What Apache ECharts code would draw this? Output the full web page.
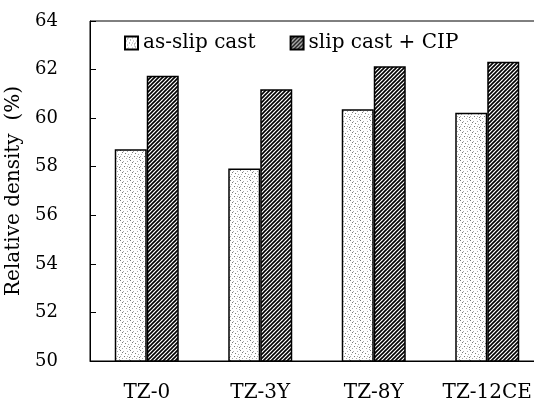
<!DOCTYPE html>
<html>
<head>
<meta charset="utf-8">
<script src="https://cdn.jsdelivr.net/npm/echarts@6/dist/echarts.min.js"></script>
<style>
html, body { margin: 0; padding: 0; background: #fff; }
#main { width: 534px; height: 406px; }
</style>
</head>
<body>
<div id="main"></div>
<script>
var categories = ['TZ-0', 'TZ-3Y', 'TZ-8Y', 'TZ-12CE'];
var slipCast = [58.72, 57.93, 60.37, 60.22];
var slipCastCIP = [61.75, 61.19, 62.14, 62.32];
var seriesNames = ['as-slip cast', 'slip cast + CIP'];

// 点状纹理
function dotPattern() {
    var c = document.createElement('canvas');
    c.width = 10; c.height = 10;
    var ctx = c.getContext('2d');
    ctx.fillStyle = '#fff';
    ctx.fillRect(0, 0, 10, 10);
    var dots = [[0, 0], [3, 1], [7, 1], [5, 3], [1, 4], [8, 4], [4, 6], [6, 8], [2, 8], [9, 7], [0, 6], [7, 6], [2, 2], [9, 9]];
    for (var i = 0; i < dots.length; i++) {
        ctx.fillStyle = i % 3 == 0 ? '#777' : '#aaa';
        ctx.fillRect(dots[i][0], dots[i][1], 1, 1);
    }
    return c;
}

// 斜线纹理
function hatchPattern() {
    var c = document.createElement('canvas');
    c.width = 4; c.height = 4;
    var ctx = c.getContext('2d');
    ctx.fillStyle = '#fff';
    ctx.fillRect(0, 0, 4, 4);
    ctx.strokeStyle = '#000';
    ctx.lineWidth = 1.6;
    ctx.beginPath();
    ctx.moveTo(-1, 5); ctx.lineTo(5, -1);
    ctx.moveTo(-3, 3); ctx.lineTo(3, -3);
    ctx.moveTo(1, 7); ctx.lineTo(7, 1);
    ctx.stroke();
    return c;
}

var font = 'DejaVu Serif';
var myChart = echarts.init(document.getElementById('main'));

var option = {
    animation: false,
    grid: {
        left: 90, top: 21, width: 454, bottom: 45,
        outerBoundsMode: 'none',
        containLabel: false,
        show: true, borderColor: '#000', borderWidth: 1
    },
    legend: {
        left: 119, top: 28,
        icon: 'rect',
        itemWidth: 13, itemHeight: 13, itemGap: 34, itemTextGap: 4,
        textStyle: { fontFamily: font, fontSize: 20, color: '#000' },
        data: seriesNames
    },
    xAxis: {
        type: 'category',
        data: categories,
        axisLine: { lineStyle: { color: '#000', width: 1 } },
        axisTick: { inside: true, length: 6, lineStyle: { color: '#000' } },
        axisLabel: { interval: 0, fontFamily: font, fontSize: 20, color: '#000', margin: 22 }
    },
    yAxis: {
        type: 'value',
        min: 50, max: 64, interval: 2,
        name: 'Relative density  (%)',
        nameLocation: 'middle',
        nameGap: 58,
        nameTextStyle: { fontFamily: font, fontSize: 20, color: '#000' },
        axisLine: { show: true, lineStyle: { color: '#000', width: 1 } },
        axisTick: { show: true, inside: true, length: 6, lineStyle: { color: '#000' } },
        axisLabel: { fontFamily: font, fontSize: 18, color: '#000', margin: 32 },
        splitLine: { show: false }
    },
    series: [
        {
            name: seriesNames[0],
            type: 'bar',
            barWidth: 32,
            barGap: '0%',
            data: slipCast,
            itemStyle: {
                color: { image: dotPattern(), repeat: 'repeat' },
                borderColor: '#000', borderWidth: 1.5
            }
        },
        {
            name: seriesNames[1],
            type: 'bar',
            barWidth: 32,
            barGap: '0%',
            data: slipCastCIP,
            itemStyle: {
                color: { image: hatchPattern(), repeat: 'repeat' },
                borderColor: '#000', borderWidth: 1.5
            }
        }
    ]
};

myChart.setOption(option);
</script>
</body>
</html>
